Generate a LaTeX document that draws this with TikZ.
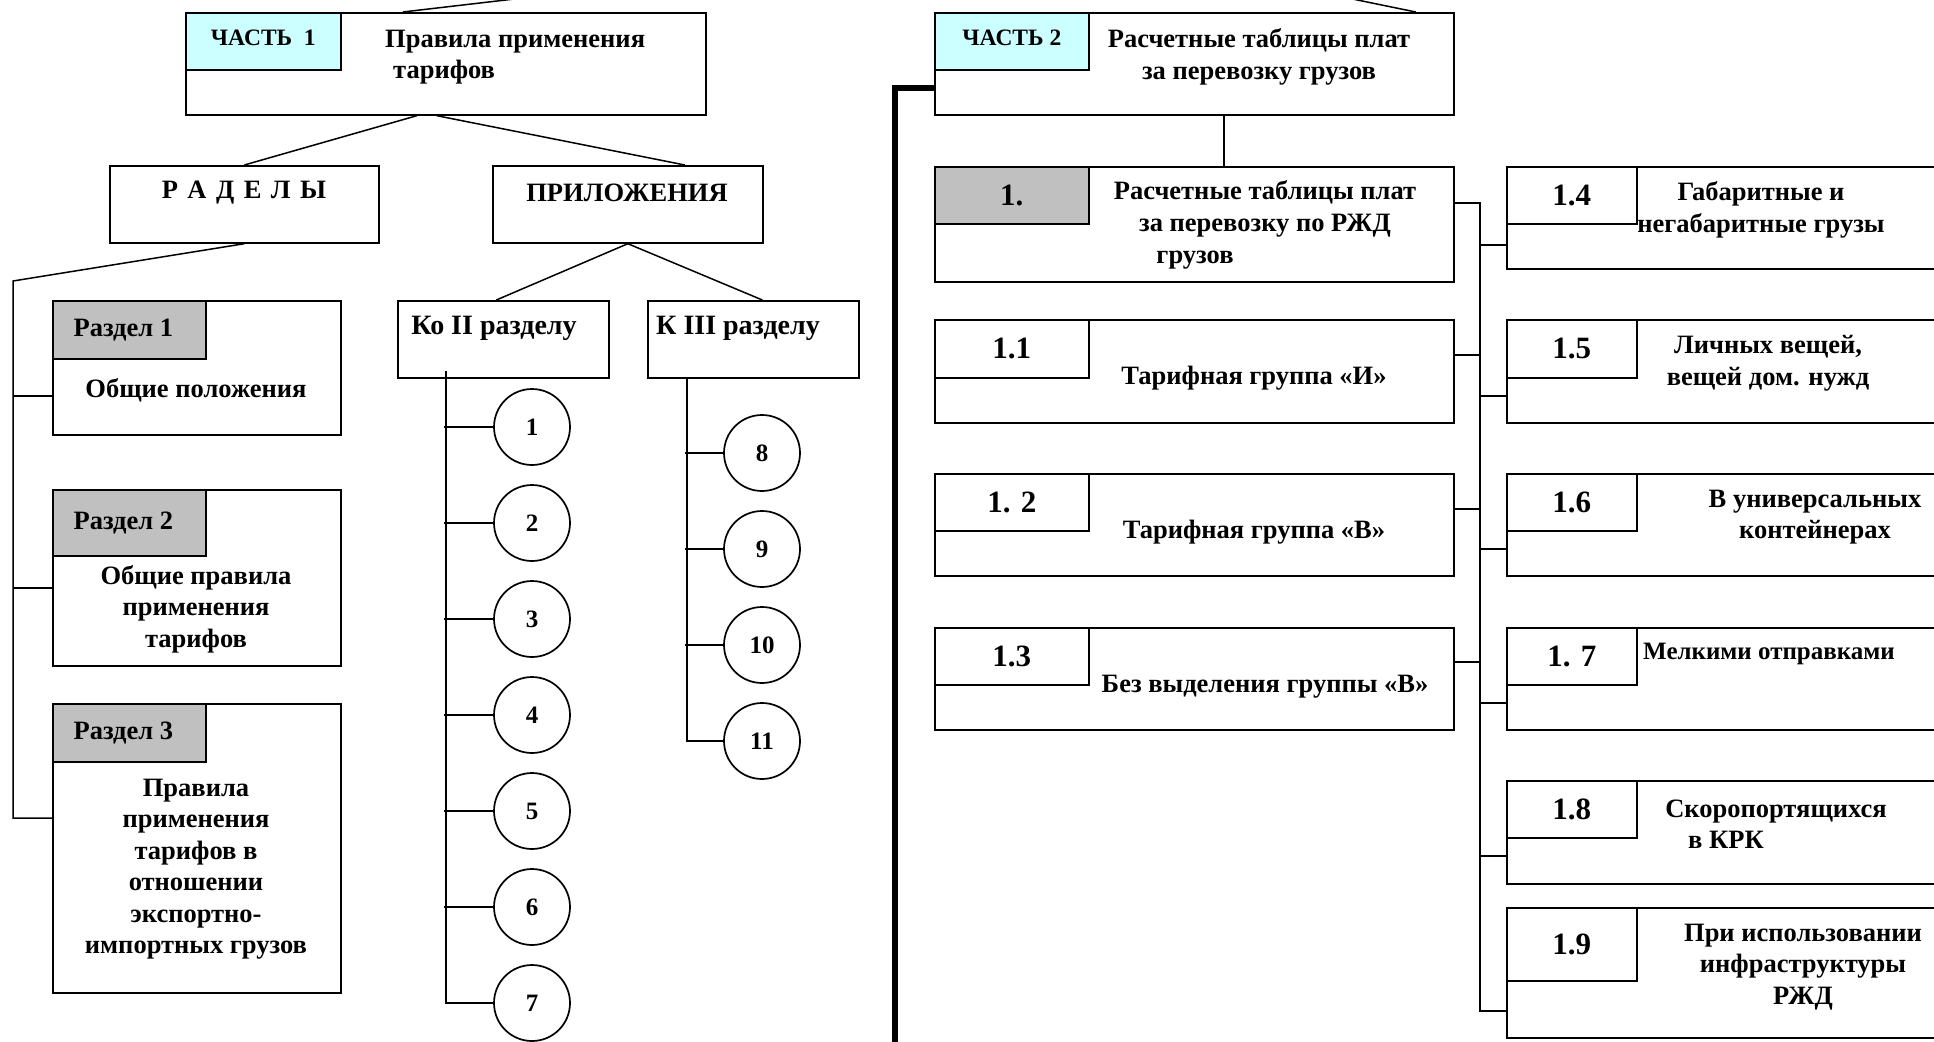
\documentclass[tikz,border=0pt]{standalone}
\usepackage{fontspec}
\setmainfont{Liberation Serif}
\usepackage{tikz}
\definecolor{partcyan}{HTML}{CCFFFF}
\definecolor{tabgray}{HTML}{C0C0C0}
\newcommand\gap{\hspace{9.5pt}}

\begin{document}
\begin{tikzpicture}[x=1pt, y=-1pt,
    font=\bfseries\fontsize{26.5}{31.5}\selectfont,
    frame/.style={draw, line width=1.7pt, inner sep=0pt, anchor=north west},
    tab/.style={frame, minimum height=57pt},
    circ/.style={draw, circle, line width=1.7pt, minimum size=76pt, inner sep=0pt,
        font=\bfseries\fontsize{25}{30}\selectfont},
    txt/.style={align=center, inner sep=0pt},
    num/.style={font=\bfseries\fontsize{31}{36}\selectfont},
    parttxt/.style={font=\bfseries\fontsize{23.5}{28}\selectfont, text depth=7pt},
    link/.style={line width=1.5pt}]
    \useasboundingbox (0,0) rectangle (1934,1041);
    \clip (0,0) rectangle (1934,1041);
    % part 1
    \node[frame, minimum width=520pt, minimum height=102pt] (part1) at (185,12) {};
    \node[tab, fill=partcyan, minimum width=155pt, parttxt] (part1tab) at (part1.north west) {ЧАСТЬ~~1};
    \node[txt, anchor=west, align=left] (part1txt) at (385,57) {Правила применения\\\hspace*{8pt}тарифов};
    \coordinate (up1) at (540,-4);
    \draw[link] ([xshift=-43pt]part1.north) -- (up1);
    \node[frame, minimum width=269pt, minimum height=77pt] (razdely) at (109,165) {};
    \node[txt] (razdelytxt) at (244,193) {Р\gap А\gap Д\gap Е\gap Л\gap Ы};
    \node[frame, minimum width=270pt, minimum height=77pt] (prilozh) at (492,165) {};
    \node[txt] (prilozhtxt) at (627,193) {ПРИЛОЖЕНИЯ};
    \draw[link] ([xshift=-29pt]part1.south) -- (razdely.north);
    \draw[link] ([xshift=-9pt]part1.south) -- ([xshift=57pt]prilozh.north);
    % sections
    \node[frame, minimum width=288pt, minimum height=134pt] (r1) at (52,300) {};
    \node[tab, fill=tabgray, minimum width=153pt, minimum height=58pt] (r1tab) at (r1.north west) {Раздел 1\hspace*{12pt}};
    \node[txt] (r1txt) at (196,390) {Общие положения};
    \node[frame, minimum width=288pt, minimum height=176pt] (r2) at (52,489) {};
    \node[tab, fill=tabgray, minimum width=153pt, minimum height=66pt] (r2tab) at (r2.north west) {Раздел 2\hspace*{12pt}};
    \node[txt] (r2txt) at (196,609) {Общие правила\\применения\\тарифов};
    \node[frame, minimum width=288pt, minimum height=289pt] (r3) at (52,703) {};
    \node[tab, fill=tabgray, minimum width=153pt, minimum height=58pt] (r3tab) at (r3.north west) {Раздел 3\hspace*{12pt}};
    \node[txt] (r3txt) at (196,869) {Правила\\применения\\тарифов в\\отношении\\экспортно-\\импортных грузов};
    \coordinate (lspine) at (13,281);
    \draw[link] (razdely.south) -- (lspine) |- (r3.west |- 0,818);
    \draw[link] (lspine |- 0,396) -- (r1.west |- 0,396);
    \draw[link] (lspine |- 0,588) -- (r2.west |- 0,588);
    % appendices
    \node[frame, minimum width=211pt, minimum height=77pt] (koii) at (397,300) {};
    \node[txt, font=\bfseries\fontsize{28}{32}\selectfont] (koiitxt) at (494,328) {Ко II разделу};
    \node[frame, minimum width=211pt, minimum height=77pt] (kiii) at (647,300) {};
    \node[txt, font=\bfseries\fontsize{28}{32}\selectfont] (kiiitxt) at (738,328) {К III разделу};
    \draw[link] (prilozh.south) -- ([xshift=-7pt]koii.north);
    \draw[link] (prilozh.south) -- ([xshift=9pt]kiii.north);
    \foreach \n [count=\i from 0] in {1,...,7}
        \node[circ] (c\n) at (532,{427+96*\i}) {\n};
    \foreach \n [count=\i from 0] in {8,...,11}
        \node[circ] (c\n) at (762,{453+96*\i}) {\n};
    \draw[link] ([xshift=-57.5pt,yshift=8pt]koii.south) |- (c7.west);
    \foreach \n in {1,...,6}
        \draw[link] (c\n.west) -- ++(-49,0);
    \draw[link] ([xshift=-66.5pt]kiii.south) |- (c11.west);
    \foreach \n in {8,9,10}
        \draw[link] (c\n.west) -- ++(-38,0);
    % part 2
    \node[frame, minimum width=519pt, minimum height=102pt] (part2) at (934,12) {};
    \node[tab, fill=partcyan, minimum width=154pt, parttxt] (part2tab) at (part2.north west) {ЧАСТЬ 2};
    \node[txt] (part2txt) at (1259,57) {Расчетные таблицы плат\\за перевозку грузов};
    \coordinate (up2) at (1333,-5);
    \draw[link] ([xshift=-39pt]part2.north east) -- (up2);
    \draw[line width=6pt] ([yshift=-76pt]part2.north west) -| (895,1050);
    % tables, left column
    \node[frame, minimum width=519pt, minimum height=115pt] (b1) at (934,166) {};
    \node[tab, fill=tabgray, minimum width=154pt, num] (b1tab) at (b1.north west) {1.};
    \node[txt, font=\bfseries\fontsize{26.5}{32}\selectfont] (b1txt) at (1265,225) {Расчетные таблицы плат\\за перевозку по РЖД\\грузов\hspace*{140pt}};
    \draw[link] ([xshift=29.5pt]part2.south) -- ([xshift=29.5pt]b1.north);
    \node[frame, minimum width=519pt, minimum height=103pt] (b11) at (934,319) {};
    \node[tab, minimum width=154pt, minimum height=58pt, num] (b11tab) at (b11.north west) {1.1};
    \node[txt] (b11txt) at (1254,378) {Тарифная группа «И»};
    \node[frame, minimum width=519pt, minimum height=102pt] (b12) at (934,473) {};
    \node[tab, minimum width=154pt, num] (b12tab) at (b12.north west) {1. 2};
    \node[txt] (b12txt) at (1254,532) {Тарифная группа «В»};
    \node[frame, minimum width=519pt, minimum height=102pt] (b13) at (934,627) {};
    \node[tab, minimum width=154pt, num] (b13tab) at (b13.north west) {1.3};
    \node[txt] (b13txt) at (1265,687) {Без выделения группы «В»};
    % tables, right column
    \node[frame, minimum width=500pt, minimum height=102pt] (b14) at (1506,166) {};
    \node[tab, minimum width=130pt, num] (b14tab) at (b14.north west) {1.4};
    \node[txt] (b14txt) at (1761,210) {Габаритные и\\негабаритные грузы};
    \node[frame, minimum width=500pt, minimum height=103pt] (b15) at (1506,319) {};
    \node[tab, minimum width=130pt, minimum height=58pt, num] (b15tab) at (b15.north west) {1.5};
    \node[txt] (b15txt) at (1768,363) {Личных вещей,\\вещей дом. нужд};
    \node[frame, minimum width=500pt, minimum height=102pt] (b16) at (1506,473) {};
    \node[tab, minimum width=130pt, num] (b16tab) at (b16.north west) {1.6};
    \node[txt] (b16txt) at (1815,517) {В универсальных\\контейнерах};
    \node[frame, minimum width=500pt, minimum height=102pt] (b17) at (1506,627) {};
    \node[tab, minimum width=130pt, num] (b17tab) at (b17.north west) {1. 7};
    \node[txt, font=\bfseries\fontsize{25}{30}\selectfont] (b17txt) at (1769,654) {Мелкими отправками};
    \node[frame, minimum width=500pt, minimum height=103pt] (b18) at (1506,780) {};
    \node[tab, minimum width=130pt, num] (b18tab) at (b18.north west) {1.8};
    \node[txt] (b18txt) at (1776,824) {Скоропортящихся\\в КРК\hspace*{100pt}};
    \node[frame, minimum width=500pt, minimum height=130pt] (b19) at (1506,907) {};
    \node[tab, minimum width=130pt, minimum height=73pt, num] (b19tab) at (b19.north west) {1.9};
    \node[txt] (b19txt) at (1803,967) {При использовании\\инфраструктуры\\РЖД};
    \coordinate (rspine) at (1480,203);
    \draw[link] (b1.east |- rspine) -- (rspine) |- (b19.west |- 0,1011);
    \foreach \b/\y in {b11/355, b12/509, b13/662}
        \draw[link] (\b.east |- 0,\y) -- (rspine |- 0,\y);
    \foreach \b/\y in {b14/245, b15/396, b16/549, b17/703, b18/856}
        \draw[link] (rspine |- 0,\y) -- (\b.west |- 0,\y);
\end{tikzpicture}
\end{document}
